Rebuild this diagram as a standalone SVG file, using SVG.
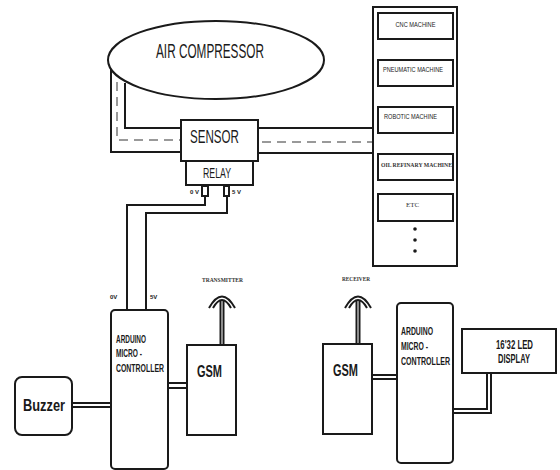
<svg xmlns="http://www.w3.org/2000/svg" width="560" height="470" viewBox="0 0 560 470">
<style>
.b{fill:#fff;stroke:#1a1a1a;stroke-width:2}
.w{fill:none;stroke:#1a1a1a;stroke-width:2}
.d{fill:none;stroke:#999;stroke-width:2;stroke-dasharray:9 6}
.t{font-family:"Liberation Sans",Arial,sans-serif;fill:#1a1a1a}
.bd{font-family:"Liberation Sans",Arial,sans-serif;font-weight:bold;fill:#1a1a1a}
.s{font-family:"Liberation Serif","Times New Roman",serif;fill:#333;font-size:7px}
</style>
<rect width="560" height="470" fill="#fff"/>
<g id="connectors">
<!-- left pipe -->
<path class="w" d="M111,62 V152 H181"/>
<path class="w" d="M125,83 V128 H181"/>
<path class="d" d="M117,82 V140 H181"/>
<!-- right pipe -->
<path class="w" d="M258,128 H373"/>
<path class="w" d="M258,153 H373"/>
<path class="d" d="M262,142 H373"/>
<!-- relay to arduino -->
<path class="w" d="M205,196 V205 H127 V311"/>
<path class="w" d="M227,196 V213 H146 V311"/>
<!-- buzzer - arduino -->
<path class="w" stroke-width="1.5" d="M72,403 H111 M72,407 H111"/>
<!-- arduino - gsm left -->
<path class="w" stroke-width="1.5" d="M168,383 H187 M168,388 H187"/>
<!-- gsm right - arduino right -->
<path class="w" stroke-width="1.5" d="M372,375 H397 M372,379 H397"/>
<!-- arduino right - display -->
<path class="w" stroke-width="1.5" d="M453,409 H487 V373 M453,413 H491 V373"/>
</g>
<g id="air-compressor">
<ellipse class="b" cx="216" cy="60" rx="108" ry="39"/>
<text class="t" x="156" y="58" font-size="20" textLength="108" lengthAdjust="spacingAndGlyphs">AIR COMPRESSOR</text>
</g>
<g id="sensor">
<rect class="b" x="181" y="120" width="77" height="41"/>
<text class="t" x="190" y="143" font-size="19" textLength="49" lengthAdjust="spacingAndGlyphs">SENSOR</text>
</g>
<g id="relay">
<rect class="b" x="186" y="161" width="67" height="24"/>
<text class="t" x="203" y="178" font-size="14" textLength="28" lengthAdjust="spacingAndGlyphs">RELAY</text>
<rect class="b" x="202" y="186" width="6" height="10" stroke-width="1.5"/>
<rect class="b" x="224" y="186" width="5" height="10" stroke-width="1.5"/>
<text class="bd" x="190" y="194" font-size="6">0 V</text>
<text class="bd" x="232" y="194" font-size="6">5 V</text>
</g>
<g id="machines">
<rect class="b" x="373" y="7" width="84" height="259"/>
<rect class="b" x="378" y="13" width="75" height="26" stroke-width="1.5"/>
<text class="t" x="415.5" y="27" font-size="7" text-anchor="middle" textLength="40" lengthAdjust="spacingAndGlyphs">CNC MACHINE</text>
<rect class="b" x="378" y="60" width="75" height="26" stroke-width="1.5"/>
<text class="t" x="383" y="72" font-size="7" textLength="60" lengthAdjust="spacingAndGlyphs">PNEUMATIC MACHINE</text>
<rect class="b" x="378" y="107" width="75" height="26" stroke-width="1.5"/>
<text class="t" x="384" y="119" font-size="7" textLength="53" lengthAdjust="spacingAndGlyphs">ROBOTIC MACHINE</text>
<rect class="b" x="378" y="154" width="75" height="26" stroke-width="1.5"/>
<text class="s" x="381" y="167" textLength="71" lengthAdjust="spacingAndGlyphs" font-weight="bold">OIL REFINARY MACHINE</text>
<rect class="b" x="378" y="194" width="75" height="27" stroke-width="1.5"/>
<text class="s" x="412.5" y="207" text-anchor="middle" font-size="6">ETC</text>
<circle cx="415" cy="229" r="1.8" fill="#1a1a1a"/>
<circle cx="415" cy="240" r="1.8" fill="#1a1a1a"/>
<circle cx="415" cy="251" r="1.8" fill="#1a1a1a"/>
</g>
<g id="arduino-left">
<rect class="b" x="111" y="310" width="57" height="159" rx="4"/>
<text class="bd" x="116" y="343" font-size="10" textLength="30" lengthAdjust="spacingAndGlyphs">ARDUINO</text>
<text class="bd" x="116" y="357" font-size="10" textLength="26" lengthAdjust="spacingAndGlyphs">MICRO -</text>
<text class="bd" x="116" y="372" font-size="10" textLength="48" lengthAdjust="spacingAndGlyphs">CONTROLLER</text>
<text class="bd" x="110" y="299" font-size="6">0V</text>
<text class="bd" x="150" y="299" font-size="6">5V</text>
</g>
<g id="buzzer">
<rect class="b" x="15" y="377" width="57" height="58" rx="7"/>
<text class="bd" x="23" y="411" font-size="17" textLength="42" lengthAdjust="spacingAndGlyphs">Buzzer</text>
</g>
<g id="gsm-tx">
<path class="w" stroke-width="1.3" d="M220.5,345 V300 M223.5,345 V300"/>
<path class="w" stroke-width="1.5" d="M209,308 Q222,285 235,308 M213,308 Q222,292 231,308"/>
<rect class="b" x="187" y="345" width="49" height="90"/>
<text class="bd" x="197" y="377" font-size="16" textLength="25" lengthAdjust="spacingAndGlyphs">GSM</text>
<text class="s" x="202" y="282" font-weight="bold" textLength="41" lengthAdjust="spacingAndGlyphs">TRANSMITTER</text>
</g>
<g id="gsm-rx">
<path class="w" stroke-width="1.3" d="M356.5,344 V300 M359.5,344 V300"/>
<path class="w" stroke-width="1.5" d="M345,308 Q358,285 371,308 M349,308 Q358,292 367,308"/>
<rect class="b" x="323" y="344" width="49" height="90"/>
<text class="bd" x="333" y="376" font-size="16" textLength="25" lengthAdjust="spacingAndGlyphs">GSM</text>
<text class="s" x="342" y="281" font-weight="bold" textLength="28" lengthAdjust="spacingAndGlyphs">RECEIVER</text>
</g>
<g id="arduino-right">
<rect class="b" x="397" y="303" width="56" height="160" rx="4"/>
<text class="bd" x="401" y="335" font-size="10" textLength="32" lengthAdjust="spacingAndGlyphs">ARDUINO</text>
<text class="bd" x="401" y="350" font-size="10" textLength="27" lengthAdjust="spacingAndGlyphs">MICRO -</text>
<text class="bd" x="401" y="365" font-size="10" textLength="49" lengthAdjust="spacingAndGlyphs">CONTROLLER</text>
</g>
<g id="led-display">
<rect class="b" x="462" y="329" width="94" height="44"/>
<text class="bd" x="496" y="349" font-size="12" textLength="37" lengthAdjust="spacingAndGlyphs">16'32 LED</text>
<text class="bd" x="498" y="363" font-size="12" textLength="32" lengthAdjust="spacingAndGlyphs">DISPLAY</text>
</g>
</svg>
